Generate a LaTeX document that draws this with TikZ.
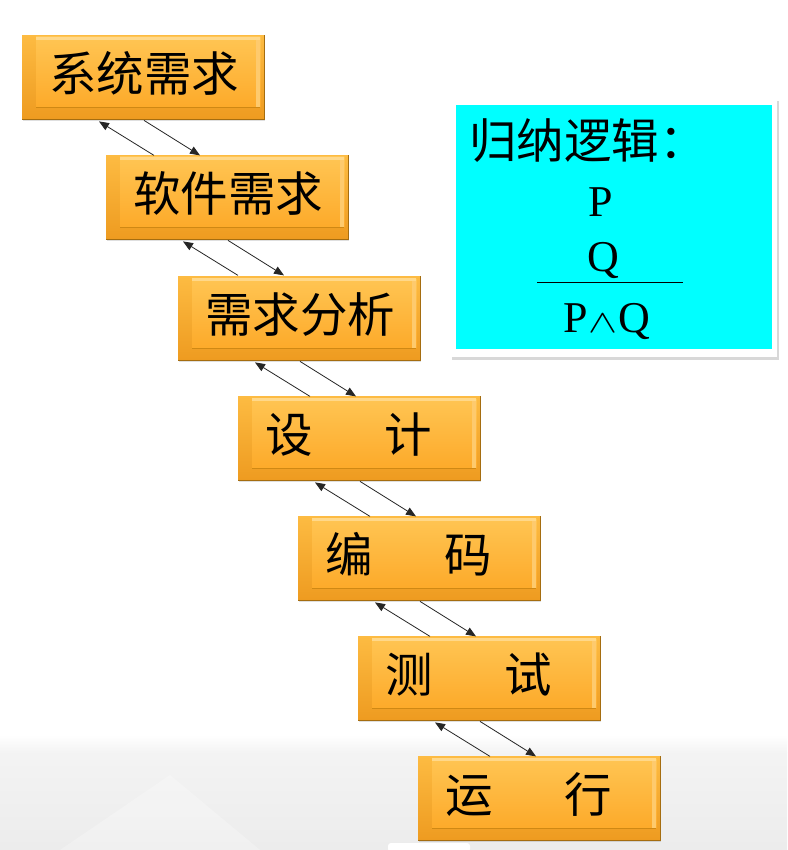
\documentclass[tikz,border=0pt]{standalone}
\usepackage{fontspec}
\usepackage{graphicx}
\setmainfont{Liberation Serif}
\newfontfamily\cjk{Noto Sans CJK SC}
\usetikzlibrary{arrows.meta,calc,shadows}
\definecolor{ob1}{HTML}{FDBB42}
\definecolor{ob2}{HTML}{EE9B20}
\definecolor{fc1}{HTML}{FFC553}
\definecolor{fc2}{HTML}{FDAA2A}
\definecolor{fchl}{HTML}{FFD88A}
\definecolor{edgecol}{HTML}{CF8814}
\definecolor{cyanbg}{HTML}{00FFFF}
\newcommand\orangestep[4]{%
  \node[outerbox, anchor=north west] (#1) at (#2,#3) {};
  \fill[top color=fc1, bottom color=fc2] ($(#1.north west)+(14,2)$) rectangle ($(#1.south east)+(-4,-12)$);
  \fill[fchl] ($(#1.north west)+(14,2)$) rectangle ($(#1.north east)+(-4,5)$);
  \fill[fchl!70!fc2] ($(#1.north east)+(-8,5)$) rectangle ($(#1.south east)+(-4,-12)$);
  \draw[edgecol, line width=0.8pt] ($(#1.south west)+(14,-12)$) -- ($(#1.south east)+(-4,-12)$);
  \draw[edgecol!80!black, line width=0.6pt] (#1.south west) -- (#1.south east) -- (#1.north east);
  \node[boxtext, anchor=west] (#1t) at ($(#1.west)+(27,-4)$) {#4};
}
\begin{document}
\begin{tikzpicture}[x=1pt,y=-1pt,
  outerbox/.style={rectangle, inner sep=0pt, minimum width=242pt, minimum height=84pt,
    top color=ob1, bottom color=ob2,
    drop shadow={opacity=0.25, shadow xshift=1pt, shadow yshift=-2pt}},
  boxtext/.style={inner sep=0pt, font=\cjk\fontsize{47.5}{52}\selectfont},
  arr/.style={-{Triangle[length=10pt,width=8pt]}, line width=0.8pt, black!85},
  serif/.style={inner sep=0pt, font=\fontsize{44}{48}\selectfont}]
\useasboundingbox (0,0) rectangle (787,850);
\fill[white] (0,0) rectangle (787,850);
% bottom background band
\shade[top color=white, bottom color=gray!9] (0,735) rectangle (787,752);
\shade[top color=gray!9, bottom color=gray!15] (0,752) rectangle (787,850);
\fill[white, opacity=0.25] (60,850) -- (170,775) -- (260,850) -- cycle;
\fill[white, rounded corners=3pt] (388,843) rectangle (470,852);

% boxes
\orangestep{b1}{22}{35}{系统需求}
\orangestep{b2}{106}{155}{软件需求}
\orangestep{b3}{178}{276}{需求分析}
\orangestep{b4}{238}{396}{设\hspace{72pt}计}
\orangestep{b5}{298}{516}{编\hspace{72pt}码}
\orangestep{b6}{358}{636}{测\hspace{72pt}试}
\orangestep{b7}{418}{756}{运\hspace{72pt}行}

% arrows
\foreach \u in {b1,b2,b3,b4,b5,b6}{
  \draw[arr] ($(\u.south west)+(132,36)$) -- ($(\u.south west)+(77,2)$);
  \draw[arr] ($(\u.south west)+(122,1)$) -- ($(\u.south west)+(178,36)$);
}

% logic box
\node[rectangle, inner sep=0pt, fill=white, minimum width=327pt, minimum height=259pt,
  anchor=north west, drop shadow={opacity=0.3, shadow xshift=2pt, shadow yshift=-3pt}] (frame) at (450,98) {};
\node[rectangle, inner sep=0pt, fill=cyanbg, minimum width=316pt, minimum height=244pt,
  anchor=north west] (logic) at (456,105) {};
\node[boxtext, anchor=west] (title) at (469,141) {归纳逻辑：};
\node[serif, anchor=base] (p) at (601,216) {P};
\node[serif, anchor=base] (q) at (603,271) {Q};
\coordinate (la) at (537,282);
\coordinate (lb) at (683,282);
\draw[line width=1pt] (la) -- (lb);
\node[serif, anchor=base] (pq) at (607,332) {P\kern1pt\scalebox{1.75}[1.3]{$\wedge$}\kern1pt Q};
\end{tikzpicture}
\end{document}
